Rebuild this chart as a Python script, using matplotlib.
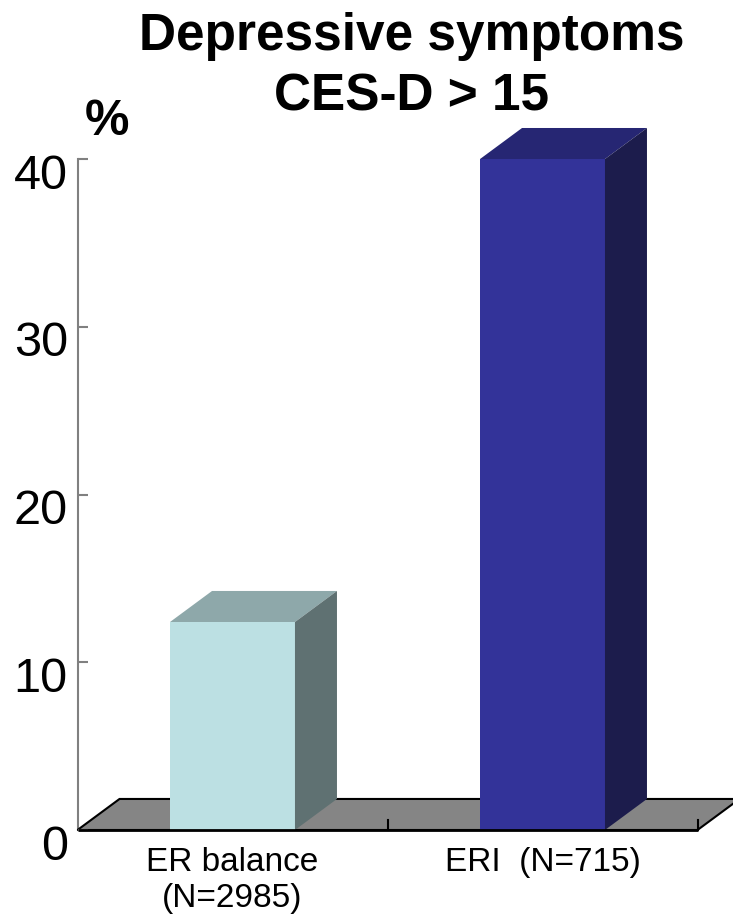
import matplotlib
matplotlib.use("Agg")
import matplotlib.pyplot as plt
import matplotlib.transforms as mtransforms
from matplotlib.patches import Polygon

# values
categories = ["ER balance\n(N=2985)", "ERI  (N=715)"]
percent = [12.4, 40.0]
yticks = [0, 10, 20, 30, 40]

front_colors = ["#bce0e3", "#333399"]
top_colors = ["#8ea8aa", "#262673"]
side_colors = ["#5f7172", "#1c1c4c"]

plt.rcParams["font.family"] = ["Liberation Sans", "DejaVu Sans"]

fig = plt.figure(figsize=(7.33, 9.18), dpi=100)
ax = fig.add_axes([0, 0, 1, 1])
ax.set_xlim(-0.75, 1.6145)
ax.set_ylim(-5.246, 49.48)
ax.patch.set_visible(False)

# depth offset of the pseudo-3d look
dx, dy = 0.1355, 1.85
bar_w = 0.403

# floor
floor = Polygon([(-0.5, 0), (1.5, 0), (1.5 + dx, dy), (-0.5 + dx, dy)],
                closed=True, facecolor="#858585", edgecolor="black",
                linewidth=1.5, zorder=1)
ax.add_patch(floor)
for xt in [0.5, 1.5]:
    ax.plot([xt, xt], [0, 0.6], color="black", lw=1.5, zorder=1.5)

# bars: front, top and right side faces
for i, h in enumerate(percent):
    x0, x1 = i - bar_w / 2, i + bar_w / 2
    ax.add_patch(Polygon([(x0, 0), (x1, 0), (x1, h), (x0, h)],
                         facecolor=front_colors[i], edgecolor="none", zorder=3))
    ax.add_patch(Polygon([(x0, h), (x1, h), (x1 + dx, h + dy), (x0 + dx, h + dy)],
                         facecolor=top_colors[i], edgecolor="none", zorder=3))
    ax.add_patch(Polygon([(x1, 0), (x1 + dx, dy), (x1 + dx, h + dy), (x1, h)],
                         facecolor=side_colors[i], edgecolor="none", zorder=3))

# front edge of floor drawn over the bar bottoms
ax.plot([-0.5, 1.5], [0, 0], color="black", lw=2, zorder=4, solid_capstyle="butt")

# y axis
for s in ["top", "right", "bottom"]:
    ax.spines[s].set_visible(False)
ax.spines["left"].set_position(("data", -0.5))
ax.spines["left"].set_bounds(0, 40)
ax.spines["left"].set_color("#808080")
ax.spines["left"].set_linewidth(1.5)
ax.spines["left"].set_zorder(0.5)
ax.set_yticks(yticks)
ax.set_yticklabels([str(v) for v in yticks])
ax.tick_params(axis="y", direction="in", length=7, width=1.5, color="#808080",
               labelsize=35, pad=7)
ax.set_xticks([])
shift = mtransforms.ScaledTranslation(0, -0.12, fig.dpi_scale_trans)
for lab in ax.get_yticklabels():
    lab.set_transform(lab.get_transform() + shift)

# category labels
for i, cat in enumerate(categories):
    ax.text(i, -1.0, cat, ha="center", va="top", fontsize=24,
            linespacing=1.2)

fig.text(107 / 733, 1 - 122 / 918, "%", ha="center", va="center",
         fontsize=36, fontweight="bold")
fig.text(412 / 733, 1 - 12 / 918, "Depressive symptoms\nCES-D > 15",
         ha="center", va="top", fontsize=37, fontweight="bold", linespacing=1.3)

fig.savefig("out.png", dpi=100)
